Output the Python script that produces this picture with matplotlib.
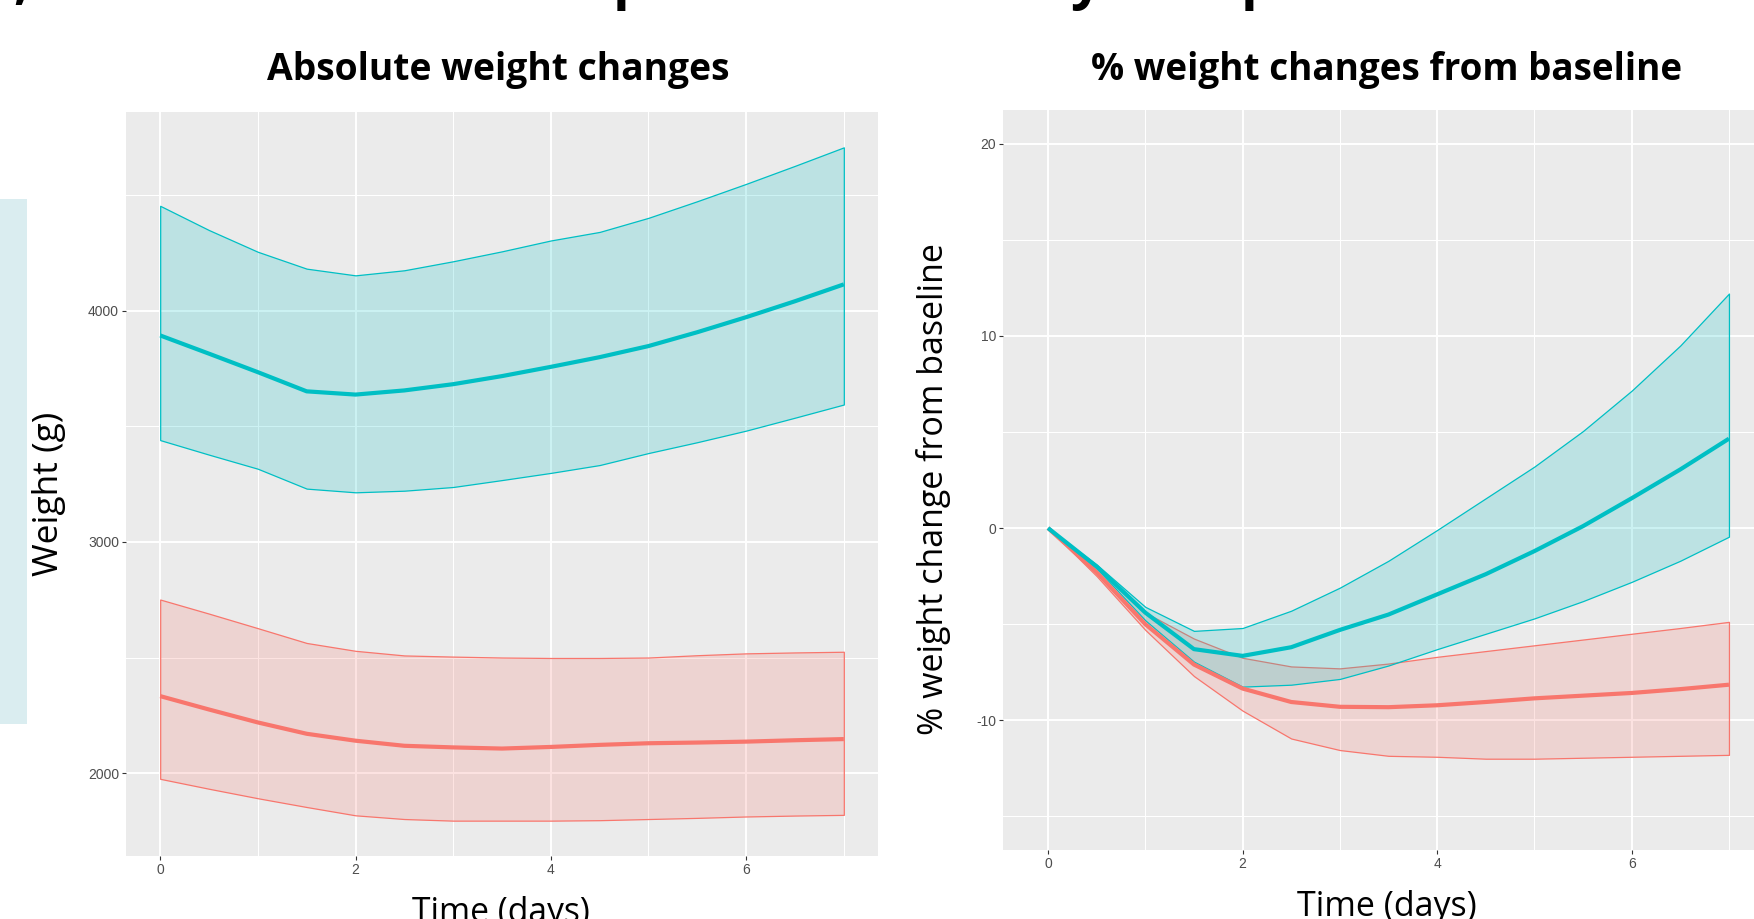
import matplotlib
matplotlib.use("Agg")
import matplotlib.pyplot as plt
from matplotlib.patches import Rectangle
from matplotlib.colors import to_rgba

# ---------------- data ----------------
time_days = [0, 0.5, 1, 1.5, 2, 2.5, 3, 3.5, 4, 4.5, 5, 5.5, 6, 6.5, 7]

# Absolute weight (g)
abs_cyan_mean  = [3894, 3815, 3735, 3652, 3638, 3656, 3683, 3718, 3758, 3800, 3848, 3908, 3973, 4042, 4115]
abs_cyan_upper = [4455, 4350, 4256, 4183, 4154, 4176, 4215, 4258, 4305, 4342, 4403, 4475, 4550, 4628, 4708]
abs_cyan_lower = [3441, 3378, 3317, 3231, 3215, 3222, 3238, 3268, 3299, 3333, 3385, 3432, 3482, 3538, 3595]
abs_red_mean   = [2333, 2275, 2219, 2170, 2140, 2118, 2111, 2106, 2113, 2122, 2129, 2132, 2136, 2142, 2147]
abs_red_upper  = [2751, 2690, 2627, 2563, 2529, 2509, 2504, 2500, 2498, 2498, 2500, 2510, 2518, 2522, 2525]
abs_red_lower  = [1975, 1932, 1891, 1853, 1817, 1801, 1794, 1794, 1794, 1796, 1801, 1806, 1812, 1816, 1819]

# % weight change from baseline
pct_cyan_mean  = [0, -2.0, -4.4, -6.3, -6.65, -6.2, -5.3, -4.5, -3.45, -2.4, -1.2, 0.1, 1.55, 3.05, 4.65]
pct_cyan_upper = [0, -1.9, -4.1, -5.35, -5.2, -4.3, -3.1, -1.7, -0.1, 1.55, 3.2, 5.05, 7.15, 9.5, 12.2]
pct_cyan_lower = [0, -2.1, -4.8, -6.95, -8.25, -8.15, -7.85, -7.15, -6.3, -5.5, -4.7, -3.8, -2.8, -1.7, -0.45]
pct_red_mean   = [0, -2.3, -5.0, -7.1, -8.35, -9.05, -9.3, -9.32, -9.22, -9.05, -8.86, -8.72, -8.58, -8.38, -8.15]
pct_red_upper  = [0, -2.1, -4.4, -5.75, -6.75, -7.2, -7.3, -7.05, -6.7, -6.4, -6.1, -5.8, -5.5, -5.2, -4.88]
pct_red_lower  = [0, -2.5, -5.3, -7.7, -9.5, -10.95, -11.55, -11.85, -11.9, -12.0, -12.0, -11.95, -11.9, -11.85, -11.8]

x_ticks = [0, 2, 4, 6]
x_minor = [1, 3, 5, 7]
abs_y_ticks = [2000, 3000, 4000]
abs_y_minor = [2500, 3500, 4500]
pct_y_ticks = [-10, 0, 10, 20]
pct_y_minor = [-15, -5, 5, 15]

title_left = "Absolute weight changes"
title_right = "% weight changes from baseline"
ylabel_left = "Weight (g)"
ylabel_right = "% weight change from baseline"
xlabel = "Time (days)"

RED = "#F8766D"
CYAN = "#00BFC4"

# ---------------- figure ----------------
plt.rcParams["font.family"] = ["Liberation Sans", "DejaVu Sans"]
plt.rcParams["axes.unicode_minus"] = False

W, H = 1754, 919
fig = plt.figure(figsize=(W / 100, H / 100), dpi=100)
fig.patch.set_facecolor("white")


def box(l, t, r, b):
    return [l / W, 1 - b / H, (r - l) / W, (b - t) / H]


# light blue side box (part of slide)
fig.patches.append(Rectangle((0, 1 - 724 / H), 27 / W, (724 - 199) / H,
                             transform=fig.transFigure, facecolor="#DAEDF0",
                             edgecolor="none", zorder=0))

axL = fig.add_axes(box(126, 112, 878, 856))
axR = fig.add_axes(box(1003, 110, 1763, 850))


def style(ax):
    ax.set_facecolor("#EBEBEB")
    for s in ax.spines.values():
        s.set_visible(False)
    ax.set_axisbelow(True)
    ax.grid(which="major", color="white", lw=1.4)
    ax.grid(which="minor", color="white", lw=0.75)
    ax.tick_params(which="major", length=3, width=0.8, color="#333333",
                   labelsize=10, labelcolor="#4D4D4D", pad=2)
    ax.tick_params(which="minor", length=0)


def draw(ax, t, series):
    for lo, hi, col in series:
        ax.fill_between(t, lo, hi, facecolor=to_rgba(col, 0.2),
                        edgecolor=col, linewidth=0.9, zorder=2)


style(axL)
draw(axL, time_days, [(abs_red_lower, abs_red_upper, RED),
                      (abs_cyan_lower, abs_cyan_upper, CYAN)])
axL.plot(time_days, abs_red_mean, color=RED, lw=3.0, zorder=3,
         solid_capstyle="butt")
axL.plot(time_days, abs_cyan_mean, color=CYAN, lw=3.0, zorder=3,
         solid_capstyle="butt")
axL.set_xlim(-0.35, 7.35)
axL.set_ylim(1641, 4861)
axL.set_xticks(x_ticks)
axL.set_xticks(x_minor, minor=True)
axL.set_yticks(abs_y_ticks)
axL.set_yticks(abs_y_minor, minor=True)

style(axR)
draw(axR, time_days, [(pct_red_lower, pct_red_upper, RED),
                      (pct_cyan_lower, pct_cyan_upper, CYAN)])
axR.plot(time_days, pct_red_mean, color=RED, lw=3.0, zorder=3,
         solid_capstyle="butt")
axR.plot(time_days, pct_cyan_mean, color=CYAN, lw=3.0, zorder=3,
         solid_capstyle="butt")
axR.set_xlim(-0.463, 7.35)
axR.set_ylim(-16.75, 21.75)
axR.set_xticks(x_ticks)
axR.set_xticks(x_minor, minor=True)
axR.set_yticks(pct_y_ticks)
axR.set_yticks(pct_y_minor, minor=True)

# ---------------- texts ----------------
renderer = fig.canvas.get_renderer()
CAP = 0.714  # Open Sans cap-height / em


def fit(x, y, s, target, weight="normal", rotation=0, ha="center",
        va="baseline"):
    t = fig.text(x / W, 1 - y / H, s, fontsize=20,
                 family=["Open Sans", "DejaVu Sans"], weight=weight,
                 rotation=rotation, rotation_mode="anchor", ha=ha, va=va,
                 color="black")
    for _ in range(3):
        bb = t.get_window_extent(renderer)
        size = bb.height if rotation == 90 else bb.width
        t.set_fontsize(t.get_fontsize() * target / size)
    return t


fit(498.5, 80, title_left, 463, weight="bold")
fit(1387, 80, title_right, 592, weight="bold")
fit(58, 494, ylabel_left, 164, rotation=90)
fit(943, 489.5, ylabel_right, 491, rotation=90)

for cx, top, wdt in [(501, 898, 178), (1387, 892, 179)]:
    t = fit(cx, 905, xlabel, wdt)
    cap_px = CAP * t.get_fontsize() * 100 / 72
    t.set_position((cx / W, 1 - (top + cap_px) / H))

# descenders of the slide heading cut off at the top edge
for ch, xpos in [(",", 13), ("p", 613), ("y", 1070), ("p", 1241)]:
    fig.text(xpos / W, 1.0 + 2 / H, ch, fontsize=40, family=["Open Sans"],
             weight="bold", ha="left", va="baseline", color="black")

fig.savefig("out.png", dpi=100, facecolor="white")
